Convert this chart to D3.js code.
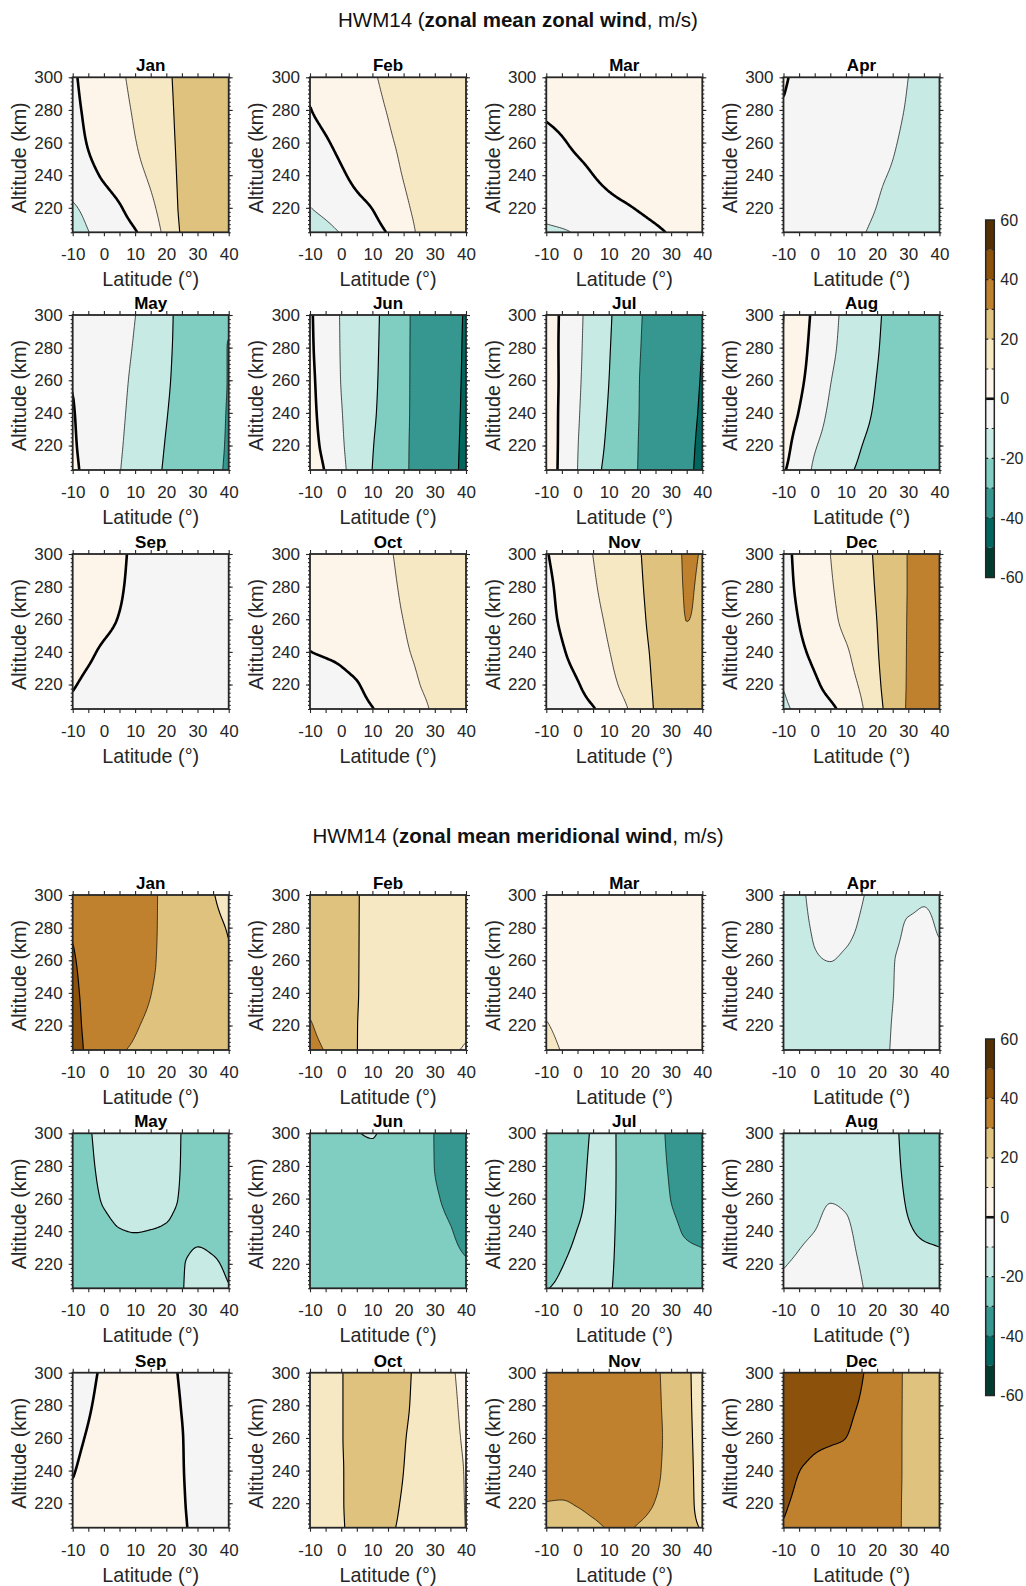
<!DOCTYPE html>
<html><head><meta charset="utf-8">
<script src="https://cdn.jsdelivr.net/npm/d3@7"></script>
<style>body{margin:0;background:#fff}svg{display:block}</style>
</head><body>
<svg id="c" width="1026" height="1586"></svg>
<script>
// ---------------- data ----------------
const lats = [-10,-5,0,5,10,15,20,25,30,35,40];
const alts = [300,280,260,240,220,205]; // row order of every grid below
const months = ["Jan","Feb","Mar","Apr","May","Jun","Jul","Aug","Sep","Oct","Nov","Dec"];
const levels = [-60,-50,-40,-30,-20,-10,0,10,20,30,40,50];
const bandColors = ["#003c30","#01665e","#35978f","#80cdc1","#c7eae5","#f5f5f5",
                    "#fdf5ea","#f6e8c3","#dfc27d","#bf812d","#8c510a","#543005"];
const xTicks = [-10,-5,0,5,10,15,20,25,30,35,40];
const yTicks = [220,240,260,280,300];
const cbTicks = [-60,-40,-20,0,20,40,60];

// zonal mean zonal wind (m/s)
const zonalJan = [
 [-1,2.3,5.5,8.7,12,15.3,18.7,22,24,26,27],
 [-1.7,1.4,4.6,7.7,10.9,14.6,18.2,21.8,24,26,27.5],
 [-2.7,0.4,3.5,6.6,9.7,13.6,17.6,21.6,24,26,27.5],
 [-5,-2.1,1.0,4.3,7.6,11.3,16.4,21.5,24,26,27.5],
 [-11,-7.9,-4.3,-0.7,3.6,8.2,14.3,21.4,24,26,27.5],
 [-13.4,-10.2,-7,-3.8,-0.6,5.3,12.5,20.8,24,26,27.5]];
const zonalFeb = [
 [1,3.1,5.2,7.2,9.3,11.5,13.8,15.5,17,18,19],
 [-0.2,1.9,4.1,6.2,8.2,10.3,12.5,14.5,16.5,17.5,18.5],
 [-3.1,-0.7,1.8,4.2,6.7,9.1,11.3,13.5,15.5,17,18],
 [-6.6,-3.8,-1,1.9,4.7,7.5,10.3,13,15,16.5,17.5],
 [-10.2,-7.7,-5,-2.4,0.2,4.3,8.4,12,14.5,16,17],
 [-16.1,-12.8,-9.5,-6.2,-3,0.5,5.8,11,13.5,15,16]];
const zonalMar = [
 [3,3.5,4,4.5,5,5.5,6,6.5,7,7.5,8],
 [1,1.8,2.6,3.4,4.2,5,5.8,6.5,7,7.5,8],
 [-2,-0.5,1,2,3,4,5,5.8,6.5,7,7.5],
 [-5,-3.3,-1.7,-0.03,1.5,3,4.2,5.2,6,6.5,7],
 [-7.5,-6.2,-4.8,-3.5,-2.1,-0.8,0.6,2,3.3,4.5,5.5],
 [-11.5,-10.8,-9.4,-7.7,-6,-4.4,-2.7,-1.1,0.6,2.3,4]];
const zonalApr = [
 [0.5,-1,-2.2,-3.4,-4.6,-5.8,-7.1,-8.5,-10,-11.6,-13.2],
 [-0.3,-1.5,-2.7,-3.9,-5.1,-6.3,-7.6,-9,-10.4,-12,-13.6],
 [-1,-2.1,-3.3,-4.5,-5.7,-7,-8.3,-9.6,-11,-12.4,-13.8],
 [-1.5,-2.7,-3.9,-5.1,-6.4,-7.8,-9.3,-10.4,-11.8,-13.2,-14.6],
 [-2,-3.3,-4.6,-5.9,-7.3,-8.7,-10.1,-11.5,-12.9,-14.3,-15.7],
 [-2.5,-3.9,-5.3,-6.7,-8.1,-9.6,-11,-12.4,-13.8,-15.2,-16.6]];
const zonalMay = [
 [-1,-3.2,-5.5,-7.7,-9.9,-14.1,-18.1,-22.1,-24.2,-26.3,-28.5],
 [-0.6,-3.0,-5.5,-7.9,-10.6,-14.7,-18.7,-21.9,-24.7,-27.5,-30.3],
 [-0.2,-2.9,-5.6,-8.3,-11.4,-15.2,-19.1,-22.1,-24.8,-27.5,-30.3],
 [0.4,-2.6,-5.6,-8.7,-12.1,-15.9,-19.7,-22.5,-25.2,-27.8,-30.5],
 [0.9,-2.5,-5.8,-9.2,-12.9,-16.7,-20.4,-23,-25.5,-28.1,-30.7],
 [1.6,-2.2,-5.9,-9.7,-13.6,-17.4,-20.9,-23.4,-25.9,-28.4,-31]];
const zonalJun = [
 [1.1,-4.9,-10.5,-14.3,-18,-22.7,-28.3,-32,-34.9,-37.8,-40.6],
 [1.4,-4.6,-10.4,-14.3,-18.2,-22.9,-28.4,-32,-34.9,-37.8,-40.8],
 [2,-4.1,-10.2,-14.3,-18.4,-23.2,-28.4,-32.1,-35,-38,-40.9],
 [2.6,-3.5,-9.6,-14.3,-18.8,-23.6,-28.5,-32.1,-35.1,-38.1,-41.1],
 [3.8,-2.5,-8.9,-14.3,-19.6,-24.2,-28.7,-32.2,-35.2,-38.3,-41.3],
 [6.4,-0.7,-7.9,-14.2,-20.1,-24.4,-28.8,-32.2,-35.3,-38.4,-41.5]];
const zonalJul = [
 [5.3,-1.3,-7.9,-13.6,-18.9,-24.2,-29.5,-32.2,-34.6,-37.1,-39.5],
 [5.3,-1.5,-8.2,-14,-19.4,-24.6,-29.8,-32.4,-35,-37.5,-40.05],
 [5.5,-1.5,-8.6,-14.3,-19.9,-25,-30.1,-32.6,-35.2,-37.8,-40.4],
 [5.6,-1.8,-9.1,-15,-20.6,-25.5,-30.2,-32.9,-35.5,-38.1,-40.8],
 [5.7,-2,-9.7,-15.8,-21.5,-26.1,-30.4,-33.1,-35.8,-38.5,-41.3],
 [5.6,-2.2,-10,-16.9,-22.4,-26.6,-30.5,-33.3,-36,-38.8,-41.5]];
const zonalAug = [
 [10.3,4.2,-1.7,-7.3,-11.9,-15.5,-19.2,-21.7,-23.8,-25.9,-28],
 [9.8,3.4,-2.7,-8.2,-12.4,-16,-19.6,-22,-24.1,-26.3,-28.5],
 [7.9,1.9,-3.9,-9.7,-13.3,-16.8,-20.2,-22.4,-24.6,-26.8,-29],
 [5.5,-0.3,-6.2,-11.2,-14.6,-18.1,-20.9,-23.1,-25.2,-27.4,-29.5],
 [2.9,-3.2,-9.3,-13,-16.4,-19.9,-21.9,-23.8,-25.8,-27.7,-29.7],
 [0.7,-4,-11.4,-15,-18.6,-21.1,-22.8,-24.6,-26.3,-28.1,-29.8]];
const zonalSep = [
 [9.5,6.8,4,1.3,-1.2,-2.5,-3.5,-4.3,-5,-5.5,-6],
 [8,5.6,3.2,0.7,-1.5,-2.8,-3.7,-4.5,-5.2,-5.7,-6.2],
 [6,3.9,1.8,-0.3,-2,-3.2,-4,-4.8,-5.5,-6,-6.5],
 [3.5,1.2,-1,-2.5,-3.5,-4.3,-5,-5.5,-6,-6.5,-7],
 [0.6,-1.5,-3,-4,-4.7,-5.3,-5.8,-6.2,-6.7,-7.2,-7.6],
 [-1.5,-3.5,-5.5,-7,-7,-6.8,-6.8,-7,-7.3,-7.7,-8]];
const zonalOct = [
 [3,4.3,5.6,6.9,8.3,9.6,10.8,12,13.1,14.3,15.5],
 [2.2,3.6,5,6.4,7.8,9.2,10.5,11.8,13,14.3,15.5],
 [1.3,2.8,4.2,5.7,7.1,8.6,10.05,11.3,12.6,13.9,15.2],
 [-0.05,0.5,1.1,2.5,4.5,6.5,9.3,10.8,12.2,13.6,15],
 [-3.5,-2.4,-1.3,-0.3,2,4.7,7.3,9.9,11.5,13,14.5],
 [-6,-4.5,-3.1,-1.7,-0.2,2.5,5.4,8.4,10.8,12.5,14]];
const zonalNov = [
 [-0.5,3,6.6,10.1,13.3,16.5,19.7,23.4,27.5,30.5,29.8],
 [-1.7,1.9,5.5,9.1,12.5,15.9,19.2,23,27.3,30.3,29.5],
 [-2.4,1,4.4,7.8,11.2,14.9,18.5,22.5,26.5,30.05,29.3],
 [-4.3,-0.8,2.7,6.2,9.7,13.7,17.7,21.5,25,28,29],
 [-6.5,-3.5,-0.5,3.4,7.5,11.8,16.6,21,24.5,27,28.5],
 [-8,-5.5,-3,-0.5,3.9,8.7,14.6,20.6,23.5,26,27.5]];
const zonalDec = [
 [-2.2,1.9,5.9,10,13.7,17.3,21.2,25.7,30.3,33.2,36],
 [-2.6,1.3,5.3,9.2,13,16.8,20.7,25.6,30.3,33.2,36],
 [-3.6,0.2,4.1,8,12,16,20.1,25.4,30.4,33.3,36],
 [-5.3,-1.7,1.9,5.4,9,14,19.5,25.2,30.5,33.4,36],
 [-9.5,-5.5,-1.4,2.7,6.5,11.3,18.4,24.9,30.6,33.4,36],
 [-11.5,-8.2,-5,-1.7,3,9.1,17.1,24.4,30.8,33.5,36]];

// zonal mean meridional wind (m/s)
const meridJan = [
 [38,36.6,35.1,33.7,32.2,30.8,28.8,26,23.1,20.3,17.5],
 [39.6,37.5,35.8,34.2,32.5,30.8,28.8,26.3,23.9,21.5,19.6],
 [40.4,38.5,36.5,34.6,32.7,30.7,28.7,26.7,24.6,22.6,20.5],
 [40.9,38.8,36.6,34.5,32.3,30.1,28.4,26.7,25,23.2,21.5],
 [41.6,38.8,36.1,33.4,30.6,28.9,27.5,26.1,24.8,23.4,22],
 [42.6,38.8,35,30.8,29.2,28,26.8,25.6,24.4,23.2,22]];
const meridFeb = [
 [26,24.1,22.2,20.2,19.2,18.4,17.5,16.6,15.8,14.9,14],
 [26.3,24.3,22.2,20.2,19.1,18.2,17.3,16.4,15.5,14.6,13.7],
 [26.7,24.5,22.3,20.2,19,18,17,16,15,14,13.2],
 [27.3,24.8,22.4,20.2,18.8,17.7,16.6,15.5,14.4,13.3,12.4],
 [30.8,26.8,23.2,20.1,18.6,17.3,16,14.8,13.5,12.2,11],
 [33,29.5,25.5,20.1,18.4,16.9,15.4,13.9,12.4,10.8,9.5]];
const meridMar = [
 [7,6.8,6.5,6.2,6,5.8,5.6,5.4,5.2,5,4.8],
 [7.3,7,6.7,6.3,6,5.8,5.6,5.4,5.2,5,4.8],
 [7.8,7.4,7,6.5,6.1,5.8,5.6,5.4,5.2,5,4.8],
 [8.5,7.9,7.3,6.7,6.2,5.9,5.6,5.4,5.2,5,4.8],
 [10.3,8.9,7.8,7,6.4,6,5.7,5.5,5.2,5,4.8],
 [11.6,9.8,8.5,7.5,6.8,6.2,5.9,5.6,5.3,5,4.8]];
const meridApr = [
 [-12,-10.8,-9,-8.3,-8.5,-9.7,-11.5,-12.5,-11.5,-10.5,-11],
 [-12.5,-11.2,-9.6,-8.8,-9.2,-10.5,-12,-11.3,-9.5,-9.2,-10.4],
 [-13,-12,-10.3,-9.95,-10.5,-11.5,-12,-10.2,-9,-8.5,-9],
 [-13.5,-12.7,-11.5,-11.2,-11.5,-12,-12,-10.1,-8.5,-7.8,-8],
 [-14,-13.3,-12.5,-12.2,-12.3,-12.5,-11.8,-9.8,-8,-7.3,-7.5],
 [-14.5,-14,-13.3,-13,-13,-12.8,-11.7,-9.6,-7.7,-7,-7.2]];
const meridMay = [
 [-22.5,-20.5,-18.3,-17,-16.5,-16.5,-17,-20.2,-23,-23.5,-24],
 [-23,-21,-18.7,-17.3,-16.8,-16.8,-17.3,-20.3,-22.5,-23,-23.5],
 [-23.5,-21.8,-19.5,-18.2,-17.7,-17.7,-18.2,-20.6,-22,-22.5,-23],
 [-24,-23,-21.5,-20.2,-19.9,-20.1,-20.5,-21.5,-21,-21.5,-22],
 [-24.5,-24,-23,-22.5,-22,-22,-21.5,-20.3,-19,-19.5,-20.8],
 [-25,-24.5,-24,-23.5,-23,-22.5,-21.5,-20.2,-18.5,-18.5,-19.8]];
const meridJun = [
 [-25,-23,-21.5,-20.1,-19.85,-21,-23,-26.5,-30.2,-32.5,-34],
 [-25.5,-23.5,-22,-21,-20.8,-22,-24,-27,-30.1,-32.5,-34.5],
 [-26,-24.5,-23,-22,-22,-23,-25,-27.5,-29.3,-31.5,-34],
 [-26,-25,-24,-23.5,-23.5,-24,-25.5,-27,-28.3,-29.7,-32],
 [-26,-25.5,-25,-24.5,-24.5,-25,-26,-27,-27.8,-28.7,-29.6],
 [-26,-25.8,-25.5,-25.3,-25.3,-25.5,-26,-26.8,-27.3,-28,-28.8]];
const meridJul = [
 [-27,-24.5,-22.2,-19.6,-19,-22,-25,-28.7,-30.8,-33,-34.5],
 [-26.5,-24,-21.8,-19.3,-19.1,-21.8,-24.8,-28.5,-30.5,-32.7,-34.2],
 [-25.5,-23.3,-21.2,-19,-19.2,-21.6,-24.5,-27.5,-30.1,-32,-33.5],
 [-24,-22,-19.9,-18.7,-19.3,-21.5,-24,-26.5,-28.5,-30.8,-32.3],
 [-22.3,-20.2,-19,-18.5,-19.5,-21.3,-23.5,-25,-26.5,-27.3,-28],
 [-20.2,-19.2,-18.8,-18.7,-19.7,-21.2,-23,-24.5,-25.8,-26.8,-27.5]];
const meridAug = [
 [-13,-13,-13,-13,-13.5,-14.5,-16,-18.8,-21.8,-24,-25],
 [-12.5,-12.3,-12,-12,-12.5,-13.7,-15.5,-18.5,-21.3,-23.5,-24.5],
 [-12,-11.5,-11,-10.2,-10.6,-12.5,-15,-18,-20.6,-22.5,-23.5],
 [-11.3,-10.6,-10,-9,-9.4,-11.5,-14.5,-17.5,-19.5,-20.6,-21],
 [-10.2,-9.5,-8.7,-8,-8.6,-10.4,-13.5,-16,-17.8,-18.7,-19.2],
 [-9.2,-8.4,-7.7,-7.3,-7.8,-9.7,-12.5,-15,-16.7,-17.8,-18.6]];
const meridSep = [
 [-3,-1.2,0.8,2.5,3.5,3.3,1.8,-0.7,-2.5,-3.5,-4],
 [-2.5,-0.5,1.5,3,4,4,2.5,-0.2,-2.2,-3.2,-3.8],
 [-1.5,0.5,2.5,4,5,5,3.3,0.2,-1.8,-3,-3.6],
 [-0.4,1.8,3.8,5.3,6,6,4,0.3,-1.5,-2.8,-3.4],
 [1.5,3.2,5,6.5,7.5,7.5,5,0.6,-1.5,-2.7,-3.3],
 [3,4.5,6.5,8.5,9,8.5,5.5,1,-1.4,-2.6,-3.2]];
const meridOct = [
 [16,18,19.8,21.5,22.3,22.3,21.2,18.4,15,10.8,8.5],
 [16,18,19.8,21.5,22.4,22.4,21,18,14.7,11.2,8.8],
 [16,18,19.8,21.5,22.5,22.3,20.4,17.5,14.5,11.4,9.3],
 [16,18,19.7,21.5,22.5,22,20,17,14.3,11.7,9.7],
 [16,18,19.7,21.4,22.2,21.2,19.5,16.8,14.2,11.8,9.8],
 [16,18,19.6,21.2,21.6,20.6,19.2,16.5,14,11.8,9.9]];
const meridNov = [
 [35.5,36,36,35.5,35,34,32.8,30.8,27.6,21.8,15],
 [35.5,36,36,35.5,35,34,32.8,31,27.8,22,15.5],
 [35.2,35.7,35.7,35.3,34.8,33.8,32.8,31.2,28,22.3,16],
 [34,34.8,35,34.7,34.3,33.5,32.5,31,27.5,22.5,16.5],
 [29.8,29.5,30.5,31.5,32,32,31.5,29.8,26.5,22.5,17],
 [27,26.5,27.5,29,30.2,30.5,29.5,27.5,25,22,19.5]];
const meridDec = [
 [45,44.5,43.5,42.5,41.5,40.3,37.5,33.3,28.5,27,26],
 [45,44.3,43.2,42,40.8,39.6,36.5,33,28.5,27,26],
 [44,43,41.3,40.6,40,38.5,36,32.8,28.5,27,26],
 [43,40.1,38.8,38,37.5,37,35.5,32.7,28.5,27,26],
 [40.8,38.8,37.8,37.3,37,36.5,35.3,32.5,28.4,27,26],
 [39.6,38,37.3,37,36.8,36.3,35,32.5,28.3,27,26]];

const zonalGrids = [zonalJan,zonalFeb,zonalMar,zonalApr,zonalMay,zonalJun,zonalJul,zonalAug,zonalSep,zonalOct,zonalNov,zonalDec];
const meridGrids = [meridJan,meridFeb,meridMar,meridApr,meridMay,meridJun,meridJul,meridAug,meridSep,meridOct,meridNov,meridDec];

// ---------------- layout ----------------
const colLeft = [72.7, 310, 546.3, 783.5];
const pw = 156, ph = 155;
const rowTopZ = [77.3, 315, 554];
const rowTopM = [895, 1133.3, 1372.7];
const FONT = "'Liberation Sans', Arial, Helvetica, sans-serif";
const INK = "#262626";
const svg = d3.select("#c");
const defs = svg.append("defs");

// shape-preserving cubic (PCHIP) used only for smooth rendering of the grid
function pchip(xs, ys) {
  const n = xs.length, h = [], d = [], m = new Array(n);
  for (let i = 0; i < n - 1; i++) { h[i] = xs[i+1] - xs[i]; d[i] = (ys[i+1] - ys[i]) / h[i]; }
  m[0] = d[0]; m[n-1] = d[n-2];
  for (let i = 1; i < n - 1; i++) {
    if (d[i-1] * d[i] <= 0) m[i] = 0;
    else { const w1 = 2*h[i] + h[i-1], w2 = h[i] + 2*h[i-1]; m[i] = (w1 + w2) / (w1/d[i-1] + w2/d[i]); }
  }
  if (d[0] * m[1] < 0) m[0] = 0;
  if (d[n-2] * m[n-2] < 0) m[n-1] = 0;
  return x => {
    if (x <= xs[0]) return ys[0];
    if (x >= xs[n-1]) return ys[n-1];
    let k = 0; while (k < n - 2 && x > xs[k+1]) k++;
    const t = (x - xs[k]) / h[k], t2 = t*t, t3 = t2*t;
    return (2*t3 - 3*t2 + 1)*ys[k] + (t3 - 2*t2 + t)*h[k]*m[k] + (-2*t3 + 3*t2)*ys[k+1] + (t3 - t2)*h[k]*m[k+1];
  };
}
const PAD = 3, DLAT = 0.5, DALT = 1;
const NX = Math.round(50 / DLAT) + 2*PAD, NY = Math.round(95 / DALT) + 2*PAD;
function field(grid) {
  const altsAsc = alts.slice().reverse();
  const cl = i => Math.max(-10, Math.min(40, -10 + (i - PAD + 0.5) * DLAT));
  const ca = j => Math.max(205, Math.min(300, 300 - (j - PAD + 0.5) * DALT));
  const fineRows = grid.map(row => { const f = pchip(lats, row); return d3.range(NX).map(i => f(cl(i))); });
  const values = new Float64Array(NX * NY);
  for (let i = 0; i < NX; i++) {
    const g = pchip(altsAsc, fineRows.map(r => r[i]).reverse());
    for (let j = 0; j < NY; j++) values[j*NX + i] = g(ca(j));
  }
  return values;
}

function styleAxis(g, size) {
  g.select(".domain").remove();
  g.attr("font-family", FONT).attr("font-size", size || 17);
  g.selectAll("line").attr("stroke", INK).attr("stroke-width", 1.1);
  g.selectAll("text").attr("fill", INK);
}

let clipId = 0;
function drawPanel(grid, left, top, month) {
  const x = d3.scaleLinear().domain([-10, 40]).range([left, left + pw]);
  const y = d3.scaleLinear().domain([205, 300]).range([top + ph, top]);
  const values = field(grid);
  const cs = d3.contours().size([NX, NY]).thresholds(levels)(values);
  const proj = d3.geoTransform({ point(px, py) {
    this.stream.point(x(-10 + (px - PAD) * DLAT), y(300 - (py - PAD) * DALT));
  }});
  const path = d3.geoPath(proj);
  const id = "clip" + (clipId++);
  defs.append("clipPath").attr("id", id).append("rect")
    .attr("x", x(-10)).attr("y", y(300)).attr("width", x(40) - x(-10)).attr("height", y(205) - y(300));
  const pg = svg.append("g").attr("clip-path", `url(#${id})`);
  pg.selectAll("path.f").data(cs).join("path").attr("class", "f")
    .attr("d", path).attr("fill", d => bandColors[levels.indexOf(d.value)]).attr("stroke", "none");
  pg.selectAll("path.l").data(cs.filter(d => d.value > -60)).join("path").attr("class", "l")
    .attr("d", path).attr("fill", "none").attr("stroke", "#000")
    .attr("stroke-linejoin", "round")
    .attr("stroke-width", d => d.value === 0 ? 2.6 : (d.value % 20 === 0 ? 1.15 : 0.7));

  const yMinor = d3.range(205, 300.01, 2.5);
  const fmt = d => String(d);
  svg.append("g").attr("transform", `translate(0,${y(205)})`)
    .call(d3.axisBottom(x).tickValues(xTicks).tickSize(4).tickPadding(12).tickFormat(d => d % 10 === 0 ? String(d) : ""))
    .call(styleAxis);
  svg.append("g").attr("transform", `translate(0,${y(300)})`)
    .call(d3.axisTop(x).tickValues(xTicks).tickSize(4).tickFormat("")).call(styleAxis);
  svg.append("g").attr("transform", `translate(${x(-10)},0)`)
    .call(d3.axisLeft(y).tickValues(yTicks).tickSize(4).tickPadding(6).tickFormat(fmt)).call(styleAxis);
  svg.append("g").attr("transform", `translate(${x(-10)},0)`)
    .call(d3.axisLeft(y).tickValues(yMinor).tickSize(2).tickFormat("")).call(styleAxis);
  svg.append("g").attr("transform", `translate(${x(40)},0)`)
    .call(d3.axisRight(y).tickValues(yTicks).tickSize(4).tickFormat("")).call(styleAxis);
  svg.append("g").attr("transform", `translate(${x(40)},0)`)
    .call(d3.axisRight(y).tickValues(yMinor).tickSize(2).tickFormat("")).call(styleAxis);

  svg.append("rect").attr("x", x(-10)).attr("y", y(300)).attr("width", x(40) - x(-10)).attr("height", y(205) - y(300))
    .attr("fill", "none").attr("stroke", INK).attr("stroke-width", 1.8);

  svg.append("text").attr("x", left + pw/2).attr("y", top - 6).attr("text-anchor", "middle")
    .attr("font-family", FONT).attr("font-weight", "bold").attr("font-size", 17).attr("fill", "#000").text(month);
  svg.append("text").attr("x", left + pw/2).attr("y", top + ph + 54).attr("text-anchor", "middle")
    .attr("font-family", FONT).attr("font-size", 19.8).attr("fill", INK).text("Latitude (°)");
  svg.append("text").attr("transform", `translate(${left - 46.7},${top + ph/2 + 3}) rotate(-90)`)
    .attr("text-anchor", "middle").attr("font-family", FONT).attr("font-size", 19.8).attr("fill", INK).text("Altitude (km)");
}

function colorbar(yTop, yBot) {
  const cx = 985.7, cw = 8.6;
  const s = d3.scaleLinear().domain([-60, 60]).range([yBot, yTop]);
  svg.append("g").selectAll("rect").data(levels).join("rect")
    .attr("x", cx).attr("width", cw).attr("y", d => s(d + 10)).attr("height", d => s(d) - s(d + 10))
    .attr("fill", (d, i) => bandColors[i]);
  const inner = levels.filter(v => v > -60 && v !== 0);
  svg.append("g").selectAll("path").data(inner).join("path")
    .attr("d", d => `M${cx},${s(d)}h2.6M${cx + cw},${s(d)}h-2.6`).attr("stroke", INK).attr("stroke-width", 1.1);
  svg.append("line").attr("x1", cx).attr("x2", cx + cw).attr("y1", s(0)).attr("y2", s(0))
    .attr("stroke", "#111").attr("stroke-width", 2.6);
  svg.append("rect").attr("x", cx).attr("y", yTop).attr("width", cw).attr("height", yBot - yTop)
    .attr("fill", "none").attr("stroke", INK).attr("stroke-width", 1.5);
  svg.append("g").attr("transform", `translate(${cx + cw},0)`)
    .call(d3.axisRight(s).tickValues(cbTicks).tickSize(0).tickPadding(6).tickFormat(d => String(d)))
    .call(g => styleAxis(g, 16));
}

function title(yBase, boldPart) {
  const t = svg.append("text").attr("x", 518).attr("y", yBase).attr("text-anchor", "middle")
    .attr("font-family", FONT).attr("font-size", 20.5).attr("fill", "#111");
  t.append("tspan").text("HWM14 (");
  t.append("tspan").attr("font-weight", "bold").text(boldPart);
  t.append("tspan").text(", m/s)");
}

title(26.7, "zonal mean zonal wind");
title(843.3, "zonal mean meridional wind");
months.forEach((m, k) => {
  const c = k % 4, r = Math.floor(k / 4);
  drawPanel(zonalGrids[k], colLeft[c], rowTopZ[r], m);
  drawPanel(meridGrids[k], colLeft[c], rowTopM[r], m);
});
colorbar(220, 577.5);
colorbar(1039, 1395.5);
</script>
</body></html>
